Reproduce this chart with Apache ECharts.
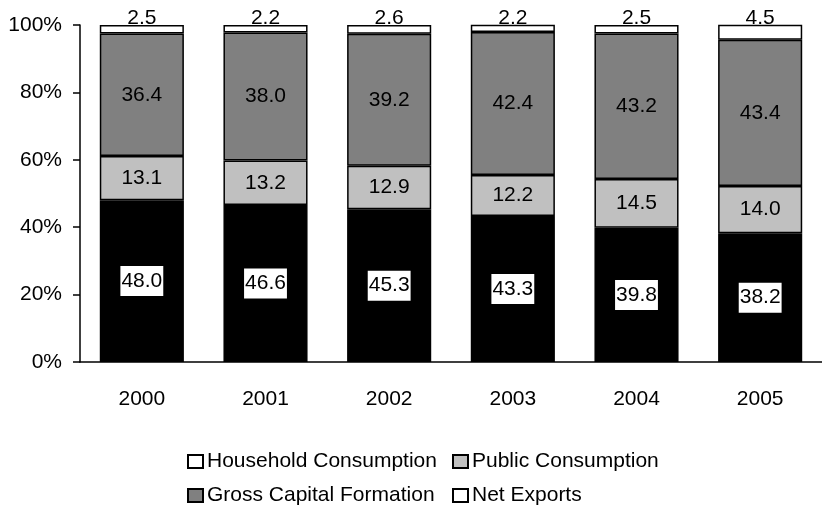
<!DOCTYPE html>
<html>
<head>
<meta charset="utf-8">
<script src="https://cdn.jsdelivr.net/npm/echarts@6/dist/echarts.min.js"></script>
<style>
  html, body { margin: 0; padding: 0; background: #fff; }
  #chart { width: 822px; height: 507px; }
</style>
</head>
<body>
<div id="chart"></div>
<script>
// Share of GDP by expenditure component (%)
const years = ['2000', '2001', '2002', '2003', '2004', '2005'];
const household = [48.0, 46.6, 45.3, 43.3, 39.8, 38.2];
const publicCons = [13.1, 13.2, 12.9, 12.2, 14.5, 14.0];
const grossCapital = [36.4, 38.0, 39.2, 42.4, 43.2, 43.4];
const netExports = [2.5, 2.2, 2.6, 2.2, 2.5, 4.5];

const FONT = '"Liberation Sans", Arial, sans-serif';
const SIZE = 21;
const fmt = p => p.value.toFixed(1);

const chart = echarts.init(document.getElementById('chart'));

// common bar settings
function bar(name, data, color, label) {
  return {
    name: name,
    type: 'bar',
    stack: 'total',
    data: data,
    barWidth: '68%',
    clip: false,
    itemStyle: { color: color, borderColor: '#000', borderWidth: 1.5 },
    label: Object.assign({ show: true, formatter: fmt, color: '#000', fontSize: SIZE, fontFamily: FONT }, label)
  };
}

function legendCol(left, names) {
  return {
    orient: 'vertical',
    left: left,
    top: 451,
    height: 60,
    padding: 0,
    icon: 'rect',
    itemWidth: 15,
    itemHeight: 13,
    itemGap: 13,
    textStyle: { fontSize: SIZE, color: '#000', lineHeight: 20, fontFamily: FONT, padding: [0, 0, 0, -1] },
    data: names
  };
}

const option = {
  animation: false,
  textStyle: { fontFamily: FONT },
  grid: { left: 80, right: 0, top: 25, bottom: 145 },
  legend: [
    legendCol(187, [
      { name: 'Household Consumption', itemStyle: { color: '#fff' } },
      'Gross Capital Formation'
    ]),
    legendCol(452, ['Public Consumption', 'Net Exports'])
  ],
  xAxis: {
    type: 'category',
    data: years,
    axisLine: { lineStyle: { color: '#000', width: 1.5 } },
    axisTick: { length: 6, lineStyle: { color: '#000', width: 1.5 } },
    axisLabel: { color: '#000', fontSize: SIZE, margin: 27, fontFamily: FONT }
  },
  yAxis: {
    type: 'value',
    min: 0,
    max: 100,
    interval: 20,
    splitLine: { show: false },
    axisLine: { show: true, lineStyle: { color: '#000', width: 1.5 } },
    axisTick: { show: true, length: 7, lineStyle: { color: '#000', width: 1.5 } },
    axisLabel: { color: '#000', fontSize: SIZE, margin: 18, formatter: '{value}%', fontFamily: FONT }
  },
  series: [
    bar('Household Consumption', household, '#000', {
      position: 'inside', backgroundColor: '#fff', padding: [6, 1, 3, 1]
    }),
    bar('Public Consumption', publicCons, '#c0c0c0', { position: 'inside' }),
    bar('Gross Capital Formation', grossCapital, '#808080', { position: 'inside' }),
    bar('Net Exports', netExports, '#fff', { position: 'top', distance: -4 })
  ]
};

chart.setOption(option);
</script>
</body>
</html>
